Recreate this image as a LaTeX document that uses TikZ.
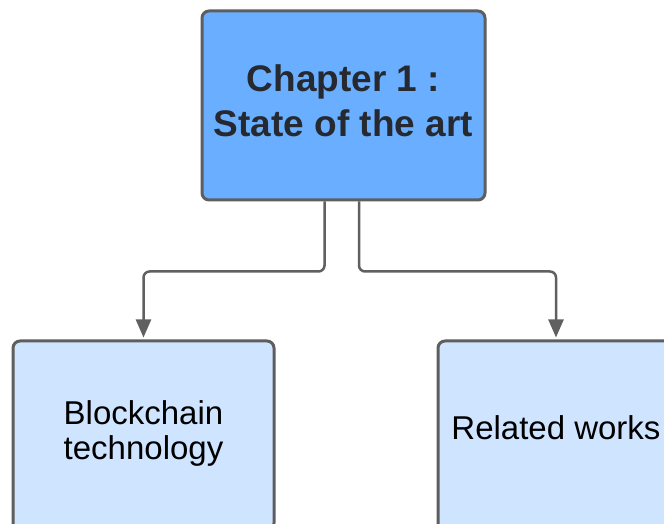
\documentclass[tikz,border=0pt]{standalone}
\usepackage{fontspec}
\setmainfont{Liberation Sans}
\usetikzlibrary{arrows.meta}
\definecolor{edgegray}{HTML}{5E5E5E}
\definecolor{linkgray}{HTML}{606060}
\definecolor{chapterblue}{HTML}{6AAFFF}
\definecolor{topicblue}{HTML}{CFE4FF}
\definecolor{titleink}{HTML}{262A30}
\tikzset{
  chapterbox/.style={draw=edgegray, line width=3pt, rounded corners=7pt,
    fill=chapterblue, minimum width=283pt, minimum height=189pt,
    inner sep=0pt},
  topicbox/.style={draw=edgegray, line width=3pt, rounded corners=7pt,
    fill=topicblue, minimum height=189pt, inner sep=0pt},
  chaptertext/.style={inner sep=0pt, align=center, text=titleink,
    font=\fontsize{37}{45}\selectfont\bfseries},
  topictext/.style={inner sep=0pt, align=center, text=black,
    font=\fontsize{33}{35}\selectfont},
  link/.style={draw=linkgray, line width=2.5pt, rounded corners=6pt,
    -{Triangle[length=18pt,width=15pt]}, shorten >=2pt}
}
\begin{document}
\begin{tikzpicture}[x=1pt,y=1pt]
  \useasboundingbox (0,0) rectangle (664,524);
  % chapter heading
  \node[chapterbox] (chapter) at (343.5,418.5) {};
  \node[chaptertext] (chaptertitle) at ([yshift=5pt]chapter.center)
    {Chapter 1 :\\State of the art};
  % the two sections of the chapter
  \node[topicbox, minimum width=261pt] (blockchain) at (143.5,88.5) {};
  \node[topictext] (blockchaintitle) at ([yshift=2pt]blockchain.center)
    {Blockchain\\technology};
  \node[topicbox, minimum width=236pt] (related) at (556,88.5) {};
  \node[topictext] (relatedtitle) at ([yshift=8pt]related.center) {Related works};
  % connectors from the heading to each section
  \draw[link] ([xshift=-19pt]chapter.south) -- ++(0,-70) -| (blockchain.north);
  \draw[link] ([xshift=15.5pt]chapter.south) -- ++(0,-70) -| (related.north);
\end{tikzpicture}
\end{document}
